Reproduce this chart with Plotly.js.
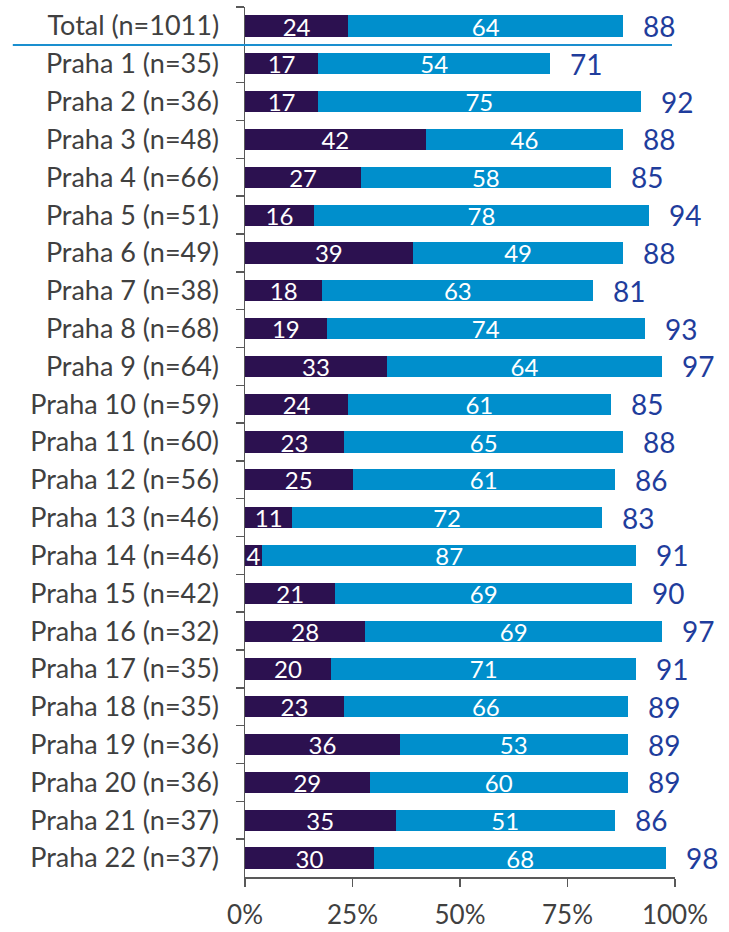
<!DOCTYPE html>
<html><head><meta charset="utf-8">
<script src="https://cdn.plot.ly/plotly-3.0.1.min.js"></script>
<style>html,body{margin:0;padding:0;background:#fff}#chart{width:729px;height:932px}</style>
</head><body><div id="chart"></div>
<script>
const categories = ["Total (n=1011)","Praha 1 (n=35)","Praha 2 (n=36)","Praha 3 (n=48)","Praha 4 (n=66)","Praha 5 (n=51)","Praha 6 (n=49)","Praha 7 (n=38)","Praha 8 (n=68)","Praha 9 (n=64)","Praha 10 (n=59)","Praha 11 (n=60)","Praha 12 (n=56)","Praha 13 (n=46)","Praha 14 (n=46)","Praha 15 (n=42)","Praha 16 (n=32)","Praha 17 (n=35)","Praha 18 (n=35)","Praha 19 (n=36)","Praha 20 (n=36)","Praha 21 (n=37)","Praha 22 (n=37)"];
const seriesDark = [24,17,17,42,27,16,39,18,19,33,24,23,25,11,4,21,28,20,23,36,29,35,30];
const seriesBlue = [64,54,75,46,58,78,49,63,74,64,61,65,61,72,87,69,69,71,66,53,60,51,68];
const totals = [88,71,92,88,85,94,88,81,93,97,85,88,86,83,91,90,97,91,89,89,89,86,98];
const xTickVals = [0,25,50,75,100];
const xTickText = ["0%","25%","50%","75%","100%"];

const FONT = "Lato, 'Open Sans', sans-serif";
const inFont = {family: FONT, size: 24, color: "#ffffff"};

const traces = [
  {type:"bar", orientation:"h", y:categories, x:seriesDark, name:"a",
   marker:{color:"#2C1150"}, text:seriesDark.map(String), textposition:"inside", textangle:0,
   insidetextanchor:"middle", constraintext:"none", textfont:inFont, hoverinfo:"none"},
  {type:"bar", orientation:"h", y:categories, x:seriesBlue, name:"b",
   marker:{color:"#008FCC"}, text:seriesBlue.map(String), textposition:"inside", textangle:0,
   insidetextanchor:"middle", constraintext:"none", textfont:inFont, hoverinfo:"none"}
];

const annotations = categories.map((c,i)=>({
  x: totals[i], y: c, xref:"x", yref:"y", text:String(totals[i]),
  showarrow:false, xanchor:"left", xshift:18,
  font:{family:FONT, size:28, color:"#1F3D9C"}
}));

const layout = {
  width:729, height:932,
  margin:{l:245, r:54, t:7, b:55},
  barmode:"stack", bargap:0.44, showlegend:false,
  paper_bgcolor:"#fff", plot_bgcolor:"#fff",
  uniformtext:{mode:"show", minsize:24},
  font:{family:FONT, color:"#404040"},
  xaxis:{range:[0,100], tickvals:xTickVals, ticktext:xTickText, showgrid:false, zeroline:false,
         showline:true, linecolor:"#595959", linewidth:1.5, ticks:"outside", ticklen:8, tickwidth:1.5, tickcolor:"#595959",
         tickfont:{family:FONT, size:26, color:"#404040"}, ticklabelstandoff:6, fixedrange:true},
  yaxis:{type:"category", autorange:"reversed", showgrid:false, zeroline:false, showline:true,
         linecolor:"#595959", linewidth:1.5, ticks:"outside", ticklen:8, tickwidth:1.5, tickcolor:"#595959",
         tickson:"boundaries", tickfont:{family:FONT, size:27, color:"#404040"}, ticklabelstandoff:19, fixedrange:true},
  annotations: annotations,
  shapes:[{type:"line", xref:"paper", yref:"y", x0:-0.54, x1:0.993, y0:0.5, y1:0.5,
           line:{color:"#1A8FCF", width:2}}]
};

Plotly.newPlot("chart", traces, layout, {displayModeBar:false, staticPlot:true});
</script></body></html>
